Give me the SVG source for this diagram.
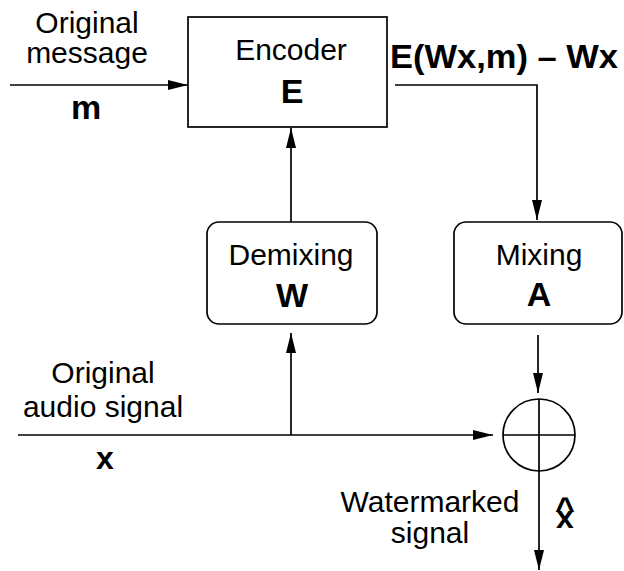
<svg xmlns="http://www.w3.org/2000/svg" width="624" height="571" viewBox="0 0 624 571">
<style>
text{font-family:"Liberation Sans",Arial,sans-serif;font-size:30px;fill:#000;text-anchor:middle}
.b{font-weight:bold;font-size:34px}
.f{font-weight:bold;font-size:33px}
.box{fill:#fff;stroke:#000;stroke-width:1.7}
.ln{fill:none;stroke:#000;stroke-width:1.7}
</style>
<defs>
<marker id="ah" viewBox="0 0 20 10" refX="20" refY="5" markerWidth="21" markerHeight="10" markerUnits="userSpaceOnUse" orient="auto">
<path d="M0,0 L20,5 L0,10 z" fill="#000"/>
</marker>
</defs>
<g id="connectors">
<path class="ln" d="M10,85 H188" marker-end="url(#ah)"/>
<path class="ln" d="M395,85 H537 V220" marker-end="url(#ah)"/>
<path class="ln" d="M291,222 V128" marker-end="url(#ah)"/>
<path class="ln" d="M291,435 V333" marker-end="url(#ah)"/>
<path class="ln" d="M18,435 H493" marker-end="url(#ah)"/>
<path class="ln" d="M538,335 V393" marker-end="url(#ah)"/>
<path class="ln" d="M539,471 V570" marker-end="url(#ah)"/>
</g>
<g id="encoder">
<rect class="box" x="188" y="17" width="199" height="110"/>
<text x="291" y="60">Encoder</text>
<text class="b" x="292" y="103">E</text>
</g>
<g id="demixing">
<rect class="box" x="207" y="222" width="170" height="102" rx="12"/>
<text x="291" y="265">Demixing</text>
<text class="b" x="292" y="307">W</text>
</g>
<g id="mixing">
<rect class="box" x="454" y="222" width="168" height="102" rx="12"/>
<text x="539" y="265">Mixing</text>
<text class="b" x="539" y="306">A</text>
</g>
<g id="sum">
<circle class="ln" cx="539" cy="435" r="36"/>
<path class="ln" d="M503,435 H575 M539,399 V471"/>
</g>
<g id="labels">
<text x="87" y="33">Original</text>
<text x="87" y="63">message</text>
<text class="b" x="86" y="119">m</text>
<text class="f" x="504" y="68" textLength="228" lengthAdjust="spacingAndGlyphs">E(Wx,m) – Wx</text>
<text x="103" y="383">Original</text>
<text x="103" y="417">audio signal</text>
<text class="b" x="105" y="469" style="font-size:32px">x</text>
<text x="430" y="512">Watermarked</text>
<text x="430" y="543">signal</text>
<text class="b" style="font-size:32px"><tspan x="565" y="528">x</tspan><tspan x="565" y="520" style="font-size:34px">^</tspan></text>
</g>
</svg>
